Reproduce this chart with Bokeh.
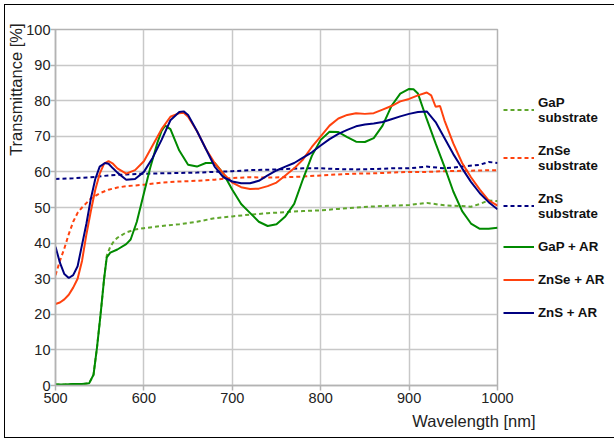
from bokeh.plotting import figure
from bokeh.models import Legend, LegendItem, Title, FixedTicker, Range1d
from bokeh.embed import file_html
from bokeh.resources import INLINE

# ---- data ----
gap_ar_x = [500, 510, 520, 530, 538, 543, 547, 551, 555, 558, 562, 570, 580, 585, 592, 600, 607, 615, 620, 624, 630, 640, 650, 660, 670, 680, 690, 700, 710, 720, 730, 740, 750, 760, 770, 780, 790, 800, 810, 820, 830, 840, 850, 860, 870, 880, 890, 900, 905, 910, 920, 930, 940, 950, 960, 970, 980, 990, 1000]
gap_ar_y = [0.3, 0.3, 0.4, 0.4, 0.6, 3, 10.8, 20, 30, 36, 37.3, 38.2, 39.7, 41, 46, 54, 61, 68, 71.5, 73, 72, 66, 62, 61.5, 62.5, 62.5, 59.5, 55, 51, 48.5, 46, 44.8, 45.3, 47.5, 51, 58, 64.5, 69, 71.3, 71.2, 69.8, 68.5, 68.4, 69.5, 73, 78.5, 82, 83.3, 83.2, 82, 74.8, 68, 61.5, 54.5, 49, 45.5, 44, 44, 44.3]

gap_sub_x = [500, 510, 520, 530, 538, 543, 547, 551, 555, 558, 562, 566, 570, 580, 590, 600, 610, 620, 640, 660, 680, 700, 720, 740, 760, 780, 800, 820, 840, 860, 880, 900, 920, 940, 960, 970, 980, 990, 1000]
gap_sub_y = [0.3, 0.3, 0.4, 0.4, 0.6, 3, 10.8, 20, 30, 36.5, 39, 40.5, 41.5, 43, 43.8, 44.2, 44.5, 44.8, 45.3, 46, 47, 47.5, 48, 48.4, 48.7, 49, 49.2, 49.6, 50, 50.3, 50.5, 50.7, 51.3, 50.6, 50.4, 50.2, 51, 52, 51.8]

znse_ar_x = [500, 505, 510, 515, 520, 525, 530, 535, 540, 545, 550, 555, 560, 565, 570, 580, 590, 600, 610, 620, 630, 640, 645, 650, 660, 670, 680, 690, 700, 710, 720, 730, 740, 750, 760, 770, 780, 790, 800, 810, 820, 830, 840, 850, 860, 870, 880, 890, 900, 910, 920, 925, 930, 935, 940, 950, 960, 970, 980, 990, 1000]
znse_ar_y = [22.9, 23.3, 24.2, 25.5, 27.5, 30, 35, 42.5, 49, 55, 59.5, 62.3, 63, 62.3, 61, 59.5, 60.5, 63, 67.5, 72, 75.5, 76.5, 76.6, 75.5, 71.5, 66.5, 62.5, 59.5, 57, 55.7, 55.2, 55.3, 56, 57, 59, 61, 63.5, 67, 70, 73, 75, 76, 76.5, 76.3, 76.5, 77.5, 78.5, 79.8, 80.5, 81.5, 82.3, 81.5, 78.3, 78.5, 74.5, 68, 62.5, 58.5, 55, 52, 50.5]

znse_sub_x = [500, 505, 510, 515, 520, 525, 530, 540, 550, 560, 570, 580, 590, 600, 620, 640, 660, 680, 700, 720, 740, 760, 780, 800, 820, 840, 860, 880, 900, 920, 940, 960, 980, 1000]
znse_sub_y = [31, 35, 38.5, 42.5, 46, 48.5, 50, 52.5, 54, 55, 55.6, 56, 56.2, 56.4, 57, 57.3, 57.5, 57.8, 58.3, 58.5, 58.4, 58.5, 58.7, 59, 59.3, 59.5, 59.6, 59.8, 60, 60, 60.2, 60.3, 60.4, 60.5]

zns_ar_x = [500, 505, 510, 515, 520, 525, 530, 535, 540, 545, 550, 556, 560, 565, 570, 580, 590, 600, 610, 620, 630, 640, 645, 650, 660, 670, 680, 690, 700, 710, 720, 730, 740, 750, 760, 770, 780, 790, 800, 810, 820, 830, 840, 850, 860, 870, 880, 890, 900, 910, 920, 930, 940, 950, 960, 970, 980, 990, 1000]
zns_ar_y = [39, 34.5, 31.3, 30.2, 31, 33.5, 39.5, 45.5, 52.5, 58, 61.5, 62.5, 62.3, 61, 59.8, 57.8, 58, 60, 64, 69, 74.5, 76.8, 77, 76, 71.5, 66.5, 61.5, 58.5, 57.3, 56.8, 56.8, 57.5, 59, 60.4, 61.5, 62.5, 64, 65.5, 67.4, 69.2, 70.7, 71.8, 72.8, 73.3, 73.6, 74, 74.8, 75.6, 76.3, 76.8, 77, 74, 69.5, 65, 61, 57.2, 54, 51.5, 49.5]

zns_sub_x = [500, 520, 540, 560, 580, 600, 620, 640, 660, 680, 700, 720, 740, 760, 780, 800, 820, 840, 860, 880, 900, 920, 940, 960, 980, 990, 1000]
zns_sub_y = [58, 58.2, 58.5, 59, 59.3, 59.5, 59.6, 59.7, 59.8, 60, 60.2, 60.5, 60.6, 60.8, 61, 61, 60.8, 60.7, 60.8, 61, 61, 61.5, 61, 61.5, 62, 62.8, 62.5]

x_ticks = [500, 600, 700, 800, 900, 1000]
y_ticks = [0, 10, 20, 30, 40, 50, 60, 70, 80, 90, 100]

GREEN = "#008a00"
GREEN_L = "#5fa62c"
ORANGE = "#ff420e"
NAVY = "#000080"
FONT = "Liberation Sans"

p = figure(frame_width=442, frame_height=356, output_backend="svg", toolbar_location=None,
           x_range=Range1d(500, 1000), y_range=Range1d(0, 100),
           min_border_left=50, min_border_top=24, min_border_right=0, min_border_bottom=52)
p.styles = {"border": "1px solid black", "margin": "4px 0 0 4px"}

p.outline_line_color = "#b3b3b3"
p.outline_line_width = 1.5
for ax in (p.xaxis[0], p.yaxis[0]):
    ax.axis_line_color = "#b3b3b3"
    ax.axis_line_width = 1.5
    ax.major_tick_line_color = "#b3b3b3"
    ax.major_tick_line_width = 1.5
    ax.major_tick_out = 5
    ax.major_tick_in = 0
    ax.minor_tick_out = 0
    ax.minor_tick_in = 0
    ax.major_label_text_font = FONT
    ax.major_label_text_font_size = "14.5px"
    ax.major_label_text_color = "#222222"
p.xaxis[0].major_label_standoff = 2
p.yaxis[0].major_label_standoff = 0
p.xaxis[0].ticker = FixedTicker(ticks=x_ticks)
p.yaxis[0].ticker = FixedTicker(ticks=y_ticks)
p.grid.grid_line_color = "#c8c8c8"
p.grid.grid_line_width = 1.5

r_gsub = p.line(gap_sub_x, gap_sub_y, line_color=GREEN_L, line_width=2, line_dash="4 3")
r_zsesub = p.line(znse_sub_x, znse_sub_y, line_color=ORANGE, line_width=2, line_dash="4 3")
r_zssub = p.line(zns_sub_x, zns_sub_y, line_color=NAVY, line_width=2, line_dash="4 3")
r_gar = p.line(gap_ar_x, gap_ar_y, line_color=GREEN, line_width=2)
r_zsear = p.line(znse_ar_x, znse_ar_y, line_color=ORANGE, line_width=2)
r_zsar = p.line(zns_ar_x, zns_ar_y, line_color=NAVY, line_width=2)

legend = Legend(items=[
    LegendItem(label="GaP\nsubstrate", renderers=[r_gsub]),
    LegendItem(label="ZnSe\nsubstrate", renderers=[r_zsesub]),
    LegendItem(label="ZnS\nsubstrate", renderers=[r_zssub]),
    LegendItem(label="GaP + AR", renderers=[r_gar]),
    LegendItem(label="ZnSe + AR", renderers=[r_zsear]),
    LegendItem(label="ZnS + AR", renderers=[r_zsar]),
], location="center_left", border_line_color=None, background_fill_alpha=0,
   padding=0, margin=6, spacing=18, glyph_width=31, glyph_height=14,
   label_standoff=4, label_text_font=FONT, label_text_font_size="13.3px",
   label_text_font_style="bold", label_text_color="#111111")
p.add_layout(legend, "right")

p.add_layout(Title(text="Wavelength [nm]", align="right", offset=-38, standoff=8,
                   text_font=FONT, text_font_size="16.5px", text_font_style="normal",
                   text_color="#222222"), "below")
p.add_layout(Title(text="Transmittance [%]", align="right", offset=-6, standoff=-3,
                   text_font=FONT, text_font_size="16.5px", text_font_style="normal",
                   text_color="#222222"), "left")

open("out.html", "w").write(file_html(p, INLINE))
